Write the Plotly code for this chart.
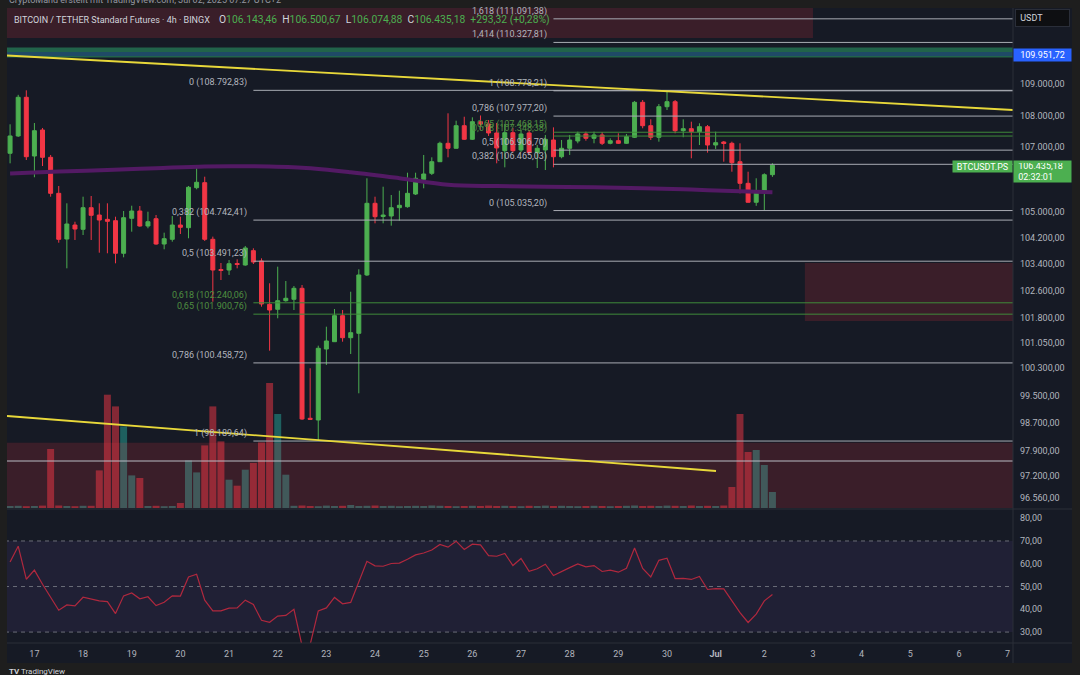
import math
import pandas as pd
import plotly.graph_objects as go

# ---------------- data ----------------
opens = [106809, 107351, 108572, 106724, 107539, 106683, 105566, 104165, 104592, 104461,
         105123, 104898, 104766, 104724, 103731, 104797, 105021, 104562, 104785, 104013,
         104156, 104592, 104510, 105740, 105895, 104156, 103240, 103225, 103421, 103376,
         103810, 103497, 102195, 102046, 102303, 102345, 102674, 98845, 98796, 100868,
         101084, 101855, 101202, 101332, 103075, 105258, 104853, 104868, 105123, 105154,
         105545, 106000, 106185, 106546, 107121, 106965, 107674, 107247, 107800, 107728,
         107445, 106890, 107454, 106912, 107445, 106828, 106912, 107225, 106702, 106965,
         107194, 107414, 107278, 107382, 107121, 107203, 107121, 107310, 108413, 107674,
         107310, 108274, 108432, 107517, 107580, 107486, 107643, 107068, 107162, 107121,
         106546, 105875, 105290, 105597, 106143.46]
closes = [107351, 108572, 106702, 107517, 106683, 105566, 104156, 104623, 104470, 105123,
          104889, 104745, 104705, 103731, 104816, 105021, 104562, 104693, 104013, 104175,
          104592, 104522, 105752, 105907, 104156, 103225, 103210, 103415, 103391, 103892,
          103467, 102204, 102025, 102303, 102375, 102674, 98825, 98816, 100889, 101105,
          101855, 101202, 101350, 103075, 105258, 104847, 104898, 105123, 105197, 105566,
          106031, 106164, 106546, 107121, 106965, 107674, 107247, 107800, 107728, 107445,
          106975, 107454, 106890, 107413, 106828, 106965, 107247, 106702, 106965, 107225,
          107414, 107278, 107382, 107121, 107203, 107121, 107329, 108413, 107674, 107310,
          108274, 108432, 107517, 107580, 107486, 107643, 107068, 107141, 107115, 106515,
          105875, 105290, 105616, 106141.86, 106435.18]
highs = [107718, 108650, 108792.83, 107759, 107602, 106756, 105792, 105258, 104693, 105462,
         105483, 105258, 105258, 104847, 105021, 105184, 105175, 105000, 104898, 104358,
         104868, 104847, 105792, 106444, 106080, 104237, 103437, 103527, 103548, 103953,
         103883, 103578, 102825, 103326, 102894, 102743, 102773, 100301, 100966, 101528,
         102055, 102025, 102572, 103246, 106031, 105462, 105770, 105514, 105647, 106204,
         106204, 106756, 106683, 107172, 108065, 107831, 107957, 107938, 107996, 107853,
         107759, 107728, 107602, 107539, 107539, 107068, 107382, 107622, 107225, 107382,
         107486, 107486, 107486, 107476, 107278, 107435, 107414, 108455, 108486, 107875,
         108359, 108778.21, 108486, 107875, 107800, 107749, 107696, 107486, 107194, 107172,
         107121, 106235, 106031, 106185, 106500.67]
lows = [106496, 107319, 106599, 106062, 106412, 105462, 104053, 103276, 104135, 104287,
        104135, 103749, 103731, 103427, 103609, 104388, 104541, 104492, 103990, 103852,
        104083, 104318, 104187, 105690, 104105, 102273, 102924, 103075, 103276, 103355,
        103406, 102124, 100818, 101778, 102273, 102025, 98800, 98796, 98189.64, 100398,
        101080, 101084, 100721, 99570, 103045, 104644, 104644, 104572, 104724, 105123,
        105514, 105721, 106133, 106540, 106683, 106960, 107225, 107225, 107539, 107351,
        106496, 106371, 106850, 106850, 106756, 106350, 106288, 106371, 106652, 106756,
        107121, 107203, 107121, 107068, 107090, 107100, 107100, 107288, 107592, 107225,
        107172, 108169, 107435, 107310, 106652, 107068, 106828, 106943, 106546, 106235,
        105566, 105280, 105180, 105035.20, 106074.88]
volumes = [20, 22, 18, 20, 24, 590, 25, 20, 18, 22,
           22, 376, 1133, 1016, 816, 326, 300, 20, 22, 18,
           20, 50, 476, 356, 626, 1016, 666, 283, 223, 383,
           450, 656, 1250, 940, 333, 22, 25, 20, 18, 24,
           20, 22, 30, 20, 22, 25, 20, 22, 18, 20,
           22, 20, 25, 22, 20, 18, 20, 22, 20, 24,
           20, 22, 20, 18, 22, 20, 24, 20, 22, 20,
           18, 20, 22, 20, 18, 20, 22, 25, 20, 22,
           20, 24, 22, 20, 25, 20, 22, 20, 25, 210,
           940, 560, 580, 430, 160]
rsi = [60.8, 67.7, 53.2, 57.2, 51.0, 45.2, 39.6, 41.9, 41.5, 45.3,
       44.4, 43.7, 43.4, 38.1, 45.9, 47.2, 44.6, 45.5, 41.6, 43.1,
       45.9, 45.8, 54.2, 55.4, 44.0, 39.3, 39.3, 40.5, 40.6, 44.0,
       42.1, 35.2, 34.3, 37.0, 37.3, 40.0, 24.0, 24.5, 39.3, 40.6,
       45.2, 42.4, 43.0, 52.0, 61.1, 59.1, 58.9, 60.1, 60.3, 62.0,
       63.9, 64.7, 66.0, 68.5, 67.3, 69.9, 66.3, 68.6, 68.3, 63.6,
       63.3, 64.5, 59.2, 62.3, 56.7, 57.8, 59.8, 54.8, 56.7, 58.3,
       59.9, 58.6, 59.2, 56.6, 57.2, 56.3, 58.0, 66.9, 57.9, 54.2,
       61.5, 62.4, 53.5, 53.6, 53.1, 54.4, 48.7, 49.1, 49.0, 43.7,
       38.5, 34.2, 37.9, 43.7, 46.5]
ma_idx = [0, 6, 12, 18, 24, 30, 36, 42, 48, 54, 60, 66, 72, 78, 84, 90, 94]
ma_vals = [106180, 106240, 106290, 106345, 106400, 106403, 106360, 106220, 106035,
           105830, 105790, 105768, 105755, 105725, 105680, 105630, 105600]

times = pd.date_range(end="2025-07-02 06:00", periods=len(opens), freq="4h")

price_ticks = [109000, 108000, 107000, 105000, 104200, 103400, 102600, 101800,
               101050, 100300, 99500, 98700, 97900, 97200, 96560]
rsi_ticks = [80, 70, 60, 50, 40, 30]
day_ticks = pd.date_range("2025-06-17 02:00", "2025-07-07 02:00", freq="D")
day_labels = ["17", "18", "19", "20", "21", "22", "23", "24", "25", "26", "27", "28",
              "29", "30", "<b>Jul</b>", "2", "3", "4", "5", "6", "7"]

fib_left_start = "2025-06-21 14:00"
fib_left_levels = ["0", "0,382", "0,5", "0,618", "0,65", "0,786", "1"]
fib_left_prices = [108792.83, 104742.41, 103491.23, 102240.06, 101900.76, 100458.72, 98189.64]
fib_right_start = "2025-06-27 18:00"
fib_right_levels = ["1,618", "1,414", "1", "0,786", "0,65", "0,618", "0,5", "0,382", "0"]
fib_right_prices = [111091.38, 110327.81, 108778.21, 107977.20, 107468.15, 107348.38,
                    106906.70, 106465.03, 105035.20]
green_levels = {"0,618", "0,65"}

zone_top = (["2025-06-15", "2025-07-03 02:00"], [110470, 113000])
zone_right = (["2025-07-02 22:00", "2025-07-09"], [101697, 103436])
zone_bottom = (["2025-06-15", "2025-07-09"], [95000, 98142])
band_green = [109843, 110164]
mark_price = 109951.72
white_line = 97618
trend_upper = (["2025-06-16 12:29", "2025-07-07 04:39"], [109907, 108169])
trend_lower = (["2025-06-16 12:29", "2025-07-01 02:10"], [98912, 97333])

X_RANGE = ["2025-06-16 12:29", "2025-07-07 04:39"]
P_RANGE = [96286, 111444]
RSI_RANGE = [25.2, 83.6]

BG = "#161a25"
UP = "#4caf50"
DN = "#f23645"
TXT = "#b2b5be"
FONT = "Roboto"


def eu(v):
    s = f"{v:,.2f}"
    return s.replace(",", "X").replace(".", ",").replace("X", ".")


def pxx(px):
    return (px - 7) / 1006


def pxy(py):
    return (643 - py) / 635


fig = go.Figure()

# volume (main y axis, drawn underneath)
vcol = ["rgba(38,166,154,0.5)" if c >= o else "rgba(242,54,69,0.5)" for o, c in zip(opens, closes)]
fig.add_trace(go.Bar(x=times, y=volumes, marker=dict(color=vcol, line=dict(width=0)),
                     width=4 * 3600 * 1000 * 0.86, xaxis="x", yaxis="y", hoverinfo="skip"))


def rect(xs, ys, color):
    fig.add_trace(go.Scatter(x=[xs[0], xs[1], xs[1], xs[0], xs[0]],
                             y=[ys[0], ys[0], ys[1], ys[1], ys[0]],
                             fill="toself", fillcolor=color, mode="lines",
                             line=dict(width=0), xaxis="x", yaxis="y3", hoverinfo="skip"))


def hline(x0, x1, y, color, width=1, dash=None, yaxis="y3", xaxis="x"):
    fig.add_trace(go.Scatter(x=[x0, x1], y=[y, y], mode="lines",
                             line=dict(color=color, width=width, dash=dash),
                             xaxis=xaxis, yaxis=yaxis, hoverinfo="skip"))


ZONE = "rgba(242,54,69,0.165)"
rect(*zone_top, ZONE)
rect(*zone_right, ZONE)
rect(*zone_bottom, ZONE)
rect(["2025-06-15", "2025-07-09"], band_green, "#21634a")
hline("2025-06-15", "2025-07-09", mark_price, "#1f4a66", width=4)
hline("2025-06-15", "2025-07-09", white_line, "#b8bbc4", width=1)

annotations = []
for lvl, p in zip(fib_left_levels, fib_left_prices):
    green = lvl in green_levels
    hline(fib_left_start, "2025-07-09", p, "#3f8a3a" if green else "#a8abb3", width=1)
    annotations.append(dict(x=fib_left_start, y=math.log10(p), xref="x", yref="y3",
                            text=f"{lvl} ({eu(p)})", showarrow=False, xanchor="right",
                            yanchor="bottom", xshift=-4, yshift=0,
                            font=dict(family=FONT, size=9, color="#4f8f40" if green else TXT)))
for lvl, p in zip(fib_right_levels, fib_right_prices):
    green = lvl in green_levels
    hline(fib_right_start, "2025-07-09", p, "#3f8a3a" if green else "#a8abb3", width=1)
    annotations.append(dict(x=fib_right_start, y=math.log10(p), xref="x", yref="y3",
                            text=f"{lvl} ({eu(p)})", showarrow=False, xanchor="right",
                            yanchor="bottom", xshift=-4, yshift=0,
                            font=dict(family=FONT, size=9, color="#4f8f40" if green else TXT)))

for tx, ty in (trend_upper, trend_lower):
    fig.add_trace(go.Scatter(x=tx, y=ty, mode="lines", line=dict(color="#e8d83a", width=1.8),
                             xaxis="x", yaxis="y3", hoverinfo="skip"))

fig.add_trace(go.Scatter(x=[times[i] for i in ma_idx], y=ma_vals, mode="lines",
                         line=dict(color="#531a64", width=4, shape="spline"),
                         xaxis="x", yaxis="y3", hoverinfo="skip"))

fig.add_trace(go.Candlestick(x=times, open=opens, high=highs, low=lows, close=closes,
                             increasing=dict(line=dict(color=UP, width=1), fillcolor=UP),
                             decreasing=dict(line=dict(color=DN, width=1), fillcolor=DN),
                             whiskerwidth=0, xaxis="x", yaxis="y3", hoverinfo="skip"))

# RSI pane
rect_x = ["2025-06-15", "2025-07-09"]
fig.add_trace(go.Scatter(x=[rect_x[0], rect_x[1], rect_x[1], rect_x[0], rect_x[0]],
                         y=[30, 30, 70, 70, 30], fill="toself",
                         fillcolor="rgba(126,87,194,0.1)", mode="lines", line=dict(width=0),
                         xaxis="x2", yaxis="y2", hoverinfo="skip"))
for lv in (70, 50, 30):
    hline(rect_x[0], rect_x[1], lv, "#6a6d78", width=1, dash="4px,4px", yaxis="y2", xaxis="x2")
fig.add_trace(go.Scatter(x=times, y=rsi, mode="lines", line=dict(color="#b0283e", width=1.2),
                         xaxis="x2", yaxis="y2", hoverinfo="skip"))

# header & labels
g = UP
sp = "\u00a0\u00a0"
title = "BITCOIN / TETHER Standard Futures · 4h · BINGX"
values = (f"O<span style='color:{g}'>{eu(opens[-1])}</span>{sp}"
          f"H<span style='color:{g}'>{eu(highs[-1])}</span>{sp}"
          f"L<span style='color:{g}'>{eu(lows[-1])}</span>{sp}"
          f"C<span style='color:{g}'>{eu(closes[-1])}</span>{sp}"
          f"<span style='color:{g}'>+{eu(closes[-1] - closes[-2])} "
          f"(+{eu((closes[-1] - closes[-2]) / closes[-2] * 100)}%)</span>")
annotations += [
    dict(x=pxx(12), y=pxy(19.5), xref="paper", yref="paper", text=title, showarrow=False,
         xanchor="left", yanchor="middle", font=dict(family=FONT, size=9.0, color="#d1d4dc")),
    dict(x=pxx(217), y=pxy(19.5), xref="paper", yref="paper", text=values, showarrow=False,
         xanchor="left", yanchor="middle", font=dict(family=FONT, size=10.3, color="#d1d4dc")),
    dict(x=pxx(7), y=pxy(7), xref="paper", yref="paper",
         text="CryptoMand erstellt mit TradingView.com, Jul 02, 2025 07:27 UTC+2",
         showarrow=False, xanchor="left", yanchor="bottom",
         font=dict(family=FONT, size=9, color="#9598a1")),
    dict(x=pxx(7), y=pxy(665), xref="paper", yref="paper", text="<b>TV</b> TradingView",
         showarrow=False, xanchor="left", yanchor="top",
         font=dict(family=FONT, size=8, color="#d1d4dc")),
    dict(x=pxx(1015), y=pxy(9), xref="paper", yref="paper", text="\u00a0USDT", showarrow=False,
         xanchor="left", yanchor="top", align="left", width=49, height=12, borderpad=2,
         bgcolor="#0e0f12", bordercolor="#2a2e39", borderwidth=1,
         font=dict(family=FONT, size=9, color="#d1d4dc")),
    dict(x=1.0, y=pxy(55), xref="paper", yref="paper", text=eu(mark_price), showarrow=False,
         xanchor="left", yanchor="middle", align="center", width=53, height=8, borderpad=2,
         bgcolor="#2962ff", font=dict(family=FONT, size=9, color="#ffffff")),
    dict(x=1.0, y=pxy(166.5), xref="paper", yref="paper", text="BTCUSDT.PS", showarrow=False,
         xanchor="right", yanchor="middle", align="center", width=55, height=7, borderpad=2,
         bgcolor=UP, font=dict(family=FONT, size=9, color="#ffffff")),
    dict(x=1.0, y=pxy(171.5), xref="paper", yref="paper",
         text=f"\u00a0{eu(closes[-1])}<br>\u00a002:32:01", showarrow=False,
         xanchor="left", yanchor="middle", align="left", width=53, height=17, borderpad=2,
         bgcolor=UP, font=dict(family=FONT, size=9, color="#ffffff")),
]

shapes = [
    dict(type="rect", xref="paper", yref="paper", x0=0, x1=pxx(1072), y0=pxy(663), y1=1,
         fillcolor=BG, line=dict(width=0), layer="below"),
    dict(type="line", xref="paper", yref="paper", x0=1, x1=1, y0=pxy(663), y1=1,
         line=dict(color="#2a2e39", width=1)),
    dict(type="line", xref="paper", yref="paper", x0=0, x1=pxx(1072), y0=pxy(509), y1=pxy(509),
         line=dict(color="#2a2e39", width=1)),
    dict(type="line", xref="paper", yref="paper", x0=0, x1=pxx(1072), y0=0, y1=0,
         line=dict(color="#2a2e39", width=1)),
]

fig.update_layout(
    width=1080, height=675, margin=dict(l=7, r=67, t=8, b=32, pad=0),
    paper_bgcolor="#1e1e1e", plot_bgcolor="rgba(0,0,0,0)", showlegend=False,
    font=dict(family=FONT, size=9, color=TXT),
    xaxis=dict(domain=[0, 1], anchor="y", type="date", range=X_RANGE, showticklabels=False,
               showgrid=False, zeroline=False, rangeslider=dict(visible=False), fixedrange=True),
    xaxis2=dict(domain=[0, 1], anchor="y2", type="date", range=X_RANGE, matches="x",
                tickvals=list(day_ticks), ticktext=day_labels, showgrid=False, zeroline=False,
                ticks="", tickfont=dict(family=FONT, size=9, color=TXT), ticklabelstandoff=4),
    yaxis=dict(domain=[pxy(508), 1], range=[0, 5000], visible=False, fixedrange=True),
    yaxis3=dict(overlaying="y", anchor="x", type="log", side="right",
                range=[math.log10(P_RANGE[0]), math.log10(P_RANGE[1])],
                tickvals=price_ticks, ticktext=[eu(v) for v in price_ticks],
                showgrid=False, zeroline=False, ticks="", ticklabelstandoff=6,
                tickfont=dict(family=FONT, size=9, color=TXT)),
    yaxis2=dict(domain=[0, pxy(510)], anchor="x2", range=RSI_RANGE, side="right",
                tickvals=rsi_ticks, ticktext=[eu(v) for v in rsi_ticks], showgrid=False,
                zeroline=False, ticks="", ticklabelstandoff=6,
                tickfont=dict(family=FONT, size=9, color=TXT)),
    annotations=annotations, shapes=shapes,
)

fig.write_html("out.html", config={"displayModeBar": False})
